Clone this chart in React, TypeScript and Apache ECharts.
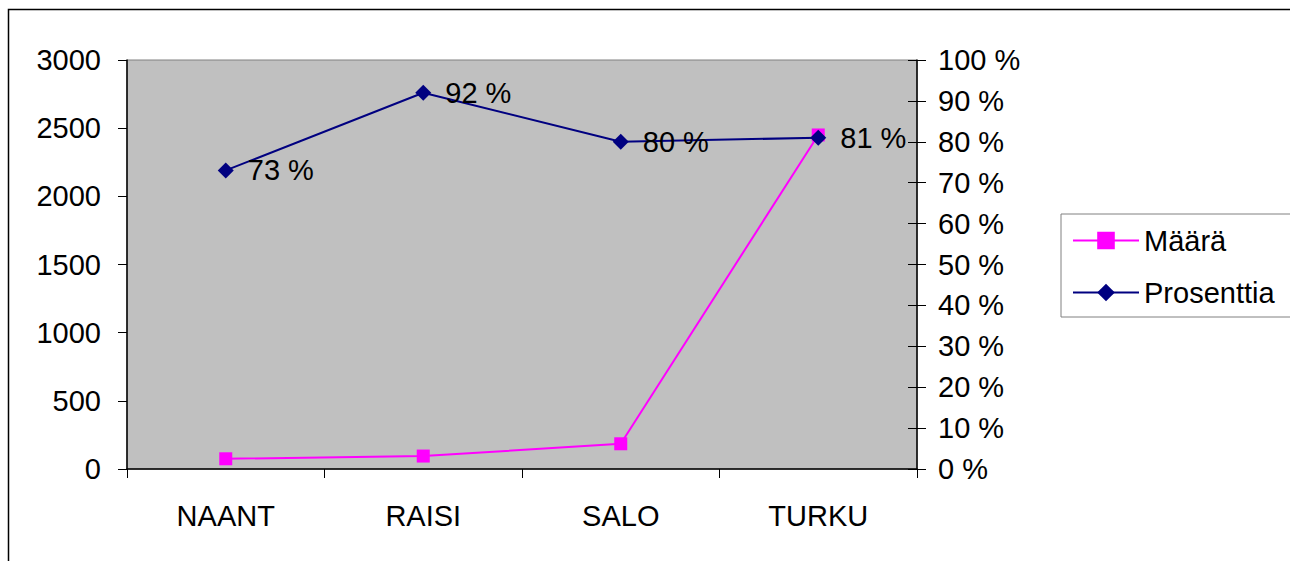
import React, { useEffect, useRef } from "react";
import * as echarts from "echarts";

const categories = ["NAANT", "RAISI", "SALO", "TURKU"];
const maaraValues = [75, 95, 185, 2450];
const prosenttiaValues = [73, 92, 80, 81];
const leftTicks = { min: 0, max: 3000, interval: 500 };
const rightTicks = { min: 0, max: 100, interval: 10 };

const FONT = "'Liberation Sans', Arial, sans-serif";
const FS = 29;

export default function App() {
  const ref = useRef<HTMLDivElement>(null);
  useEffect(() => {
    if (!ref.current) return;
    const chart = echarts.init(ref.current, null, { renderer: "svg" });
    chart.setOption({
      animation: false,
      backgroundColor: "#ffffff",
      textStyle: { fontFamily: FONT, color: "#000" },
      graphic: [
        {
          type: "rect",
          shape: { x: 8.5, y: 9.5, width: 1400, height: 1000 },
          style: { fill: "none", stroke: "#000", lineWidth: 1.5 },
          silent: true,
          z: -10,
        },
      ],
      grid: {
        left: 127,
        right: 373,
        top: 60,
        bottom: 92,
        show: true,
        backgroundColor: "#c0c0c0",
        borderColor: "#808080",
        borderWidth: 1,
      },
      legend: {
        orient: "vertical",
        left: 1061,
        top: 214,
        padding: [12, 20, 10, 11],
        itemGap: 23,
        itemWidth: 66,
        itemHeight: 22,
        borderColor: "#808080",
        borderWidth: 1,
        borderRadius: 0,
        backgroundColor: "#ffffff",
        lineStyle: { width: 2 },
        textStyle: { fontFamily: FONT, fontSize: FS, color: "#000", padding: [0, 0, 0, 0] },
        data: ["Määrä", "Prosenttia"],
      },
      xAxis: {
        type: "category",
        data: categories,
        boundaryGap: true,
        axisLine: { lineStyle: { color: "#000", width: 1.5 } },
        axisTick: { show: true, length: 9, inside: false, lineStyle: { color: "#000" } },
        axisLabel: { fontFamily: FONT, fontSize: FS, color: "#000", margin: 32 },
        splitLine: { show: false },
      },
      yAxis: [
        {
          type: "value",
          position: "left",
          min: leftTicks.min,
          max: leftTicks.max,
          interval: leftTicks.interval,
          axisLine: { show: true, lineStyle: { color: "#000", width: 1.5 } },
          axisTick: { show: true, length: 9, lineStyle: { color: "#000" } },
          axisLabel: {
            fontFamily: FONT,
            fontSize: FS,
            color: "#000",
            margin: 26,
            formatter: (v: number) => String(v),
          },
          splitLine: { show: false },
        },
        {
          type: "value",
          position: "right",
          min: rightTicks.min,
          max: rightTicks.max,
          interval: rightTicks.interval,
          axisLine: { show: true, lineStyle: { color: "#000", width: 1.5 } },
          axisTick: { show: true, length: 9, lineStyle: { color: "#000" } },
          axisLabel: { fontFamily: FONT, fontSize: FS, color: "#000", margin: 21, formatter: "{value} %" },
          splitLine: { show: false },
        },
        {
          type: "value",
          position: "right",
          min: rightTicks.min,
          max: rightTicks.max,
          interval: rightTicks.interval,
          axisLine: { show: false },
          axisTick: { show: true, inside: true, length: 9, lineStyle: { color: "#000" } },
          axisLabel: { show: false },
          splitLine: { show: false },
        },
      ],
      series: [
        {
          name: "Määrä",
          type: "line",
          yAxisIndex: 0,
          data: maaraValues,
          symbol: "rect",
          symbolSize: 13,
          itemStyle: { color: "#ff00ff" },
          lineStyle: { color: "#ff00ff", width: 2 },
          z: 2,
        },
        {
          name: "Prosenttia",
          type: "line",
          yAxisIndex: 1,
          data: prosenttiaValues,
          symbol: "diamond",
          symbolSize: [16, 16],
          itemStyle: { color: "#000080" },
          lineStyle: { color: "#000080", width: 2 },
          label: {
            show: true,
            position: "right",
            distance: 14,
            formatter: "{c} %",
            fontFamily: FONT,
            fontSize: FS,
            color: "#000",
          },
          z: 3,
        },
      ],
    });
    return () => chart.dispose();
  }, []);
  return (
    <div
      ref={ref}
      style={{ position: "fixed", left: 0, top: 0, width: 1290, height: 561 }}
    />
  );
}
